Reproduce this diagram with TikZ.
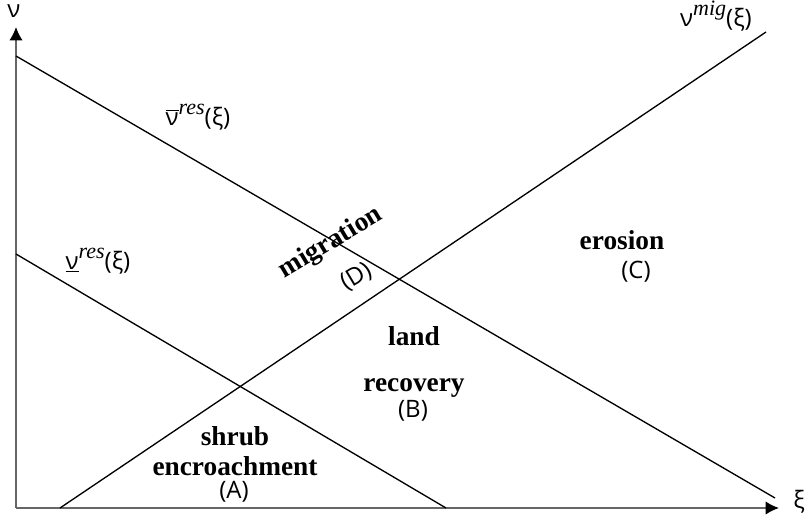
\documentclass[tikz,border=0pt]{standalone}
\usepackage{fontspec}
\setmainfont{Liberation Serif}
\newfontfamily\lblfont{Open Sans}
\usetikzlibrary{arrows.meta}
\newcommand\supit[1]{\raisebox{.45em}{\normalfont\itshape\fontsize{16.5}{17}\selectfont #1}}

\begin{document}
\begin{tikzpicture}[x=0.75pt,y=-0.75pt,>=Latex,
  axis/.style={draw=black!60,line width=1.1pt,-{Latex[length=10pt,width=10pt,color=black]}},
  curve/.style={draw,line width=1pt},
  region/.style={font=\fontsize{20.5}{22}\selectfont\bfseries,align=center,inner sep=0pt},
  tag/.style={font=\lblfont\fontsize{18}{20}\selectfont,inner sep=0pt}]
\useasboundingbox (0,0) rectangle (808,522);
% axes
\coordinate (o) at (16,508);
\coordinate (ytip) at (16,27);
\coordinate (xtip) at (779,508);
\draw[axis] (o) -- (ytip);
\draw[axis] (o) -- (xtip);
\node[tag] (ylab) at (14,11) {ν};
\node[tag] (xlab) at (799,502) {ξ};
% the three lines
\coordinate (up0) at (16,56);
\coordinate (up1) at (775,498);
\coordinate (lo0) at (16,254);
\coordinate (lo1) at (446,508);
\coordinate (mg0) at (60,508);
\coordinate (mg1) at (766,32);
\draw[curve] (up0) -- (up1);
\draw[curve] (lo0) -- (lo1);
\draw[curve] (mg0) -- (mg1);
\node[tag] (fmig) at (716,16) {ν\supit{mig}(ξ)};
\node[tag] (fup) at (198,117) {$\overline{\hbox{\lblfont ν}}$\supit{res}(ξ)};
\node[tag] (flo) at (98,261) {\underline{ν}\supit{res}(ξ)};
% regions
\node[region] (ra) at (235,451) {shrub\\[1pt]encroachment};
\node[tag] (ta) at (234,492) {(A)};
\node[region] (rb) at (414,362) {land\\[12pt]recovery};
\node[tag] (tb) at (413,411) {(B)};
\node[region] (rc) at (622,240) {erosion};
\node[tag] (tc) at (636,272) {(C)};
\node[region,rotate=31] (rd) at (331,243) {migration};
\node[tag,rotate=31] (td) at (357,277) {(D)};
\end{tikzpicture}
\end{document}
